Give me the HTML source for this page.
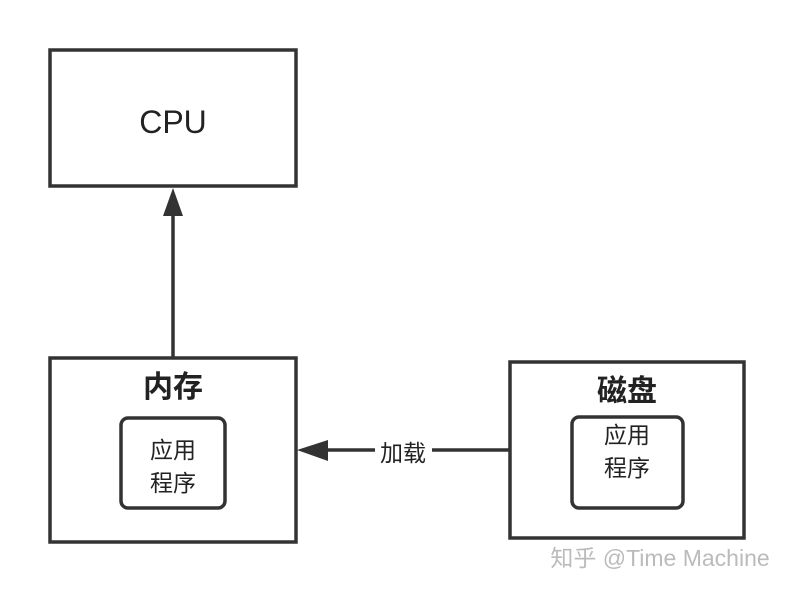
<html><head><style>body{margin:0;background:#fff;width:794px;height:592px;overflow:hidden;font-family:"Liberation Sans","Noto Sans CJK SC",sans-serif}</style></head><body>
<svg width="794" height="592" viewBox="0 0 794 592" xmlns="http://www.w3.org/2000/svg">
<g fill="none" stroke="#333" stroke-width="3.5">
<rect x="50" y="50" width="246" height="136"/>
<rect x="50" y="358" width="246" height="184"/>
<rect x="121" y="418" width="104" height="90" rx="7"/>
<rect x="510" y="362" width="234" height="176"/>
<rect x="572" y="417" width="111" height="91" rx="7"/>
<line x1="173" y1="357" x2="173" y2="214"/>
<line x1="328" y1="450" x2="375" y2="450"/>
<line x1="432" y1="450" x2="510" y2="450"/>
</g>
<polygon points="173,188 163,216 183,216" fill="#333"/>
<polygon points="297,450 328,440 328,461" fill="#333"/>
<g fill="#222" text-anchor="middle">
<text x="173" y="133" font-size="32">CPU</text>
<text x="173" y="397" font-size="30" font-weight="bold">内存</text>
<text x="173" y="458" font-size="23">应用</text>
<text x="173" y="491" font-size="23">程序</text>
<text x="627" y="401" font-size="30" font-weight="bold">磁盘</text>
<text x="627" y="443" font-size="23">应用</text>
<text x="627" y="476" font-size="23">程序</text>
<text x="403" y="461" font-size="23">加载</text>
</g>
<text x="660" y="566" font-size="23" fill="#bbb" text-anchor="middle">知乎 @Time Machine</text>
</svg>
</body></html>
